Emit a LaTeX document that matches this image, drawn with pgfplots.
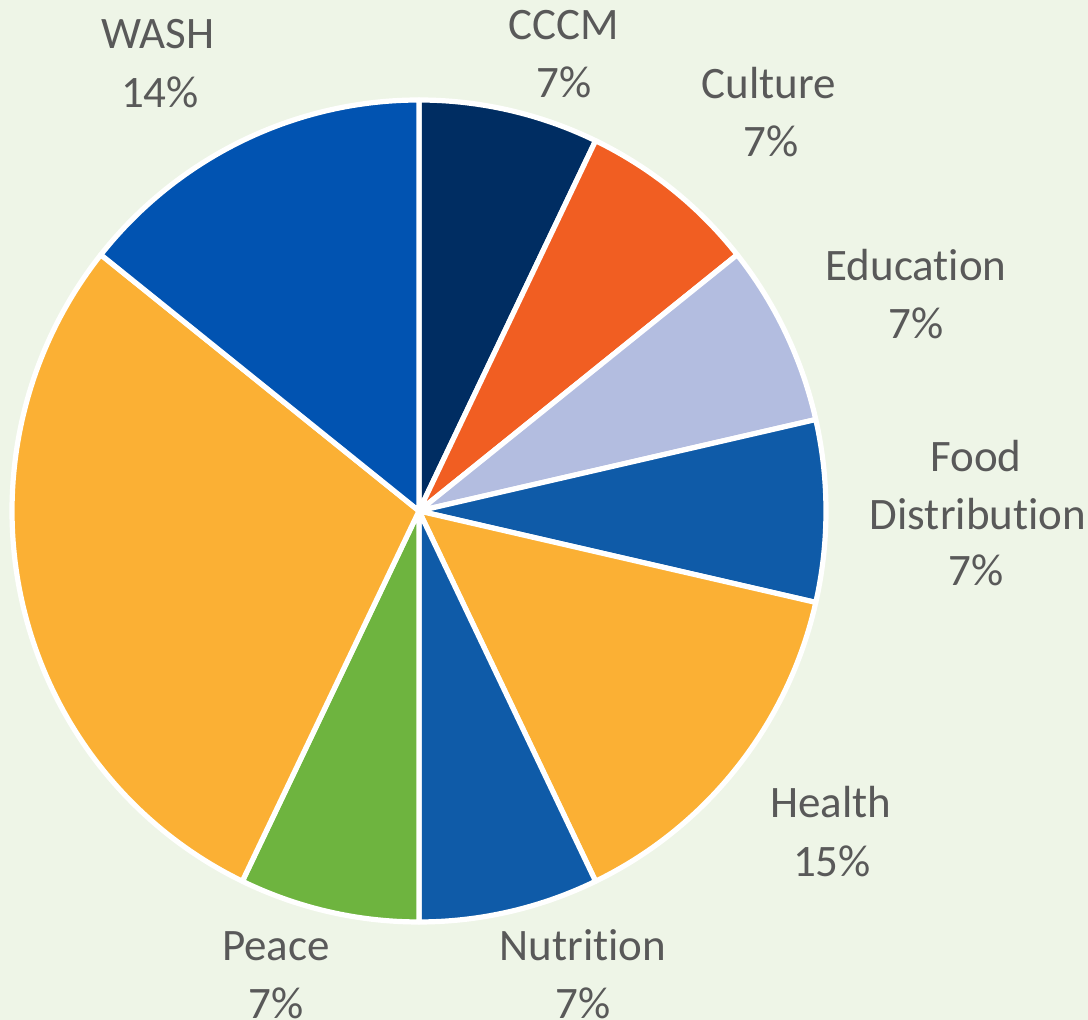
\documentclass[border=0pt]{standalone}
\usepackage{pgfplots}
\pgfplotsset{compat=1.18}
\usepackage{fontspec}
\setmainfont{Carlito}[Ligatures={NoCommon}]
\definecolor{bgcol}{HTML}{EEF5E7}
\definecolor{txt}{HTML}{595959}
\definecolor{cccm}{HTML}{002D62}
\definecolor{culture}{HTML}{F15E22}
\definecolor{educ}{HTML}{B3BDE0}
\definecolor{food}{HTML}{0F5BA8}
\definecolor{wash}{HTML}{0153B1}
\definecolor{health}{HTML}{FBB034}
\definecolor{peace}{HTML}{6EB43F}
\tikzset{lab/.style={anchor=base, text=txt, font=\fontsize{22.5}{27}\selectfont, inner sep=0pt}}
% slice: colour, start angle, end angle (math degrees); 14 units in total
% values: CCCM 1, Culture 1, Education 1, Food 1, Health 2, Nutrition 1, Peace 1, (unlabelled) 4, WASH 2
\newcommand\slice[3]{\addplot[fill=#1, draw=white, line width=2.6pt, line join=round, domain=#2:#3, samples=100, variable=\t] ({419+407*cos(\t)},{509+411*sin(\t)}) -- (axis cs:419,509) -- cycle;}
\begin{document}
\begin{tikzpicture}
\fill[bgcol] (0,0) rectangle (544pt,510pt);
\begin{axis}[at={(0,0)}, anchor=south west, hide axis, scale only axis, width=544pt, height=510pt,
  xmin=0, xmax=1088, ymin=0, ymax=1020, clip=false]
\slice{cccm}{64.2857}{90}
\slice{culture}{38.5714}{64.2857}
\slice{educ}{12.8571}{38.5714}
\slice{food}{-12.8571}{12.8571}
\slice{health}{-64.2857}{-12.8571}
\slice{food}{-90}{-64.2857}
\slice{peace}{-115.7143}{-90}
\slice{health}{-218.5714}{-115.7143}
\slice{wash}{-270}{-218.5714}
\node[lab] at (axis cs:158,971) {WASH};
\node[lab] at (axis cs:160,912) {14\%};
\node[lab] at (axis cs:564,980) {CCCM};
\node[lab] at (axis cs:564,922) {7\%};
\node[lab] at (axis cs:769,921) {Culture};
\node[lab] at (axis cs:771,863) {7\%};
\node[lab] at (axis cs:916,739) {Education};
\node[lab] at (axis cs:916,681) {7\%};
\node[lab] at (axis cs:976,548) {Food};
\node[lab] at (axis cs:978,490) {Distribution};
\node[lab] at (axis cs:976,434) {7\%};
\node[lab] at (axis cs:831,202) {Health};
\node[lab] at (axis cs:832,143) {15\%};
\node[lab] at (axis cs:276,59) {Peace};
\node[lab] at (axis cs:276,1) {7\%};
\node[lab] at (axis cs:583,59) {Nutrition};
\node[lab] at (axis cs:583,1) {7\%};
\end{axis}
\pgfresetboundingbox
\path[use as bounding box] (0,0) rectangle (544pt,510pt);
\end{tikzpicture}
\end{document}
